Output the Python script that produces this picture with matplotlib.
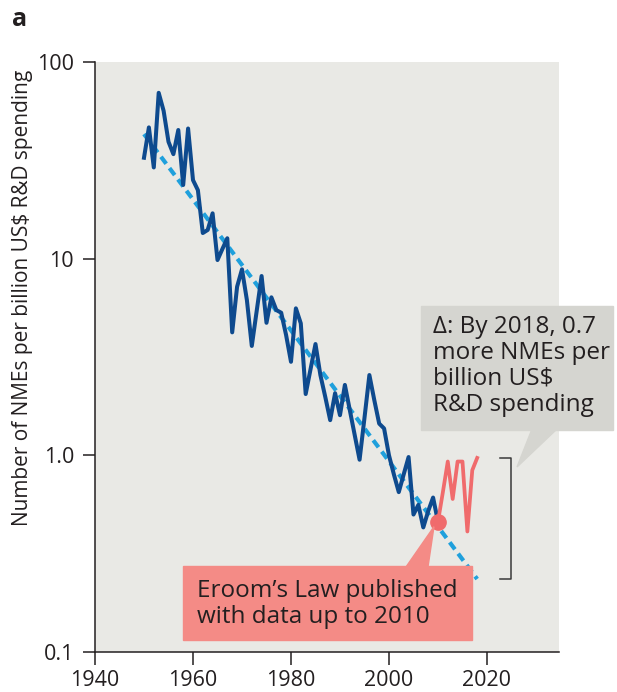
import numpy as np
import matplotlib.pyplot as plt
from matplotlib.patches import Polygon, Rectangle

plt.rcParams['font.family'] = ['Open Sans', 'DejaVu Sans']

# NMEs per billion US$ R&D spending (inflation adjusted)
years_old = list(range(1950, 2011))
nme_old = [32.6, 46.5, 29.1, 69.7, 56.5, 39.3, 34.0, 45.1, 23.7, 45.9,
           25.1, 22.3, 13.5, 14.0, 17.0, 9.84, 11.2, 12.7, 4.22, 7.20,
           8.83, 6.16, 3.60, 5.42, 8.16, 4.72, 6.36, 5.48, 5.31, 4.09,
           2.99, 5.59, 4.69, 2.05, 2.75, 3.68, 2.56, 1.98, 1.51, 2.07,
           1.60, 2.28, 1.70, 1.27, 0.95, 1.55, 2.56, 1.91, 1.45, 1.37,
           1.00, 0.80, 0.65, 0.80, 0.98, 0.50, 0.56, 0.43, 0.52, 0.61,
           0.46]
years_new = list(range(2010, 2019))
nme_new = [0.46, 0.65, 0.93, 0.60, 0.93, 0.93, 0.41, 0.84, 0.97]

# Eroom's law fit
trend_years = [1950, 2018]
trend_vals = [43, 0.235]

W, H = 617, 692
def fx(x):
    return x / W
def fy(y):
    return 1 - y / H

ink = '#231f20'
navy = '#0e4a8e'
sky = '#1fa0dc'
salmon = '#f06b6c'

fig = plt.figure(figsize=(W / 100, H / 100), dpi=100)
ax = fig.add_axes([fx(95), fy(652), (559 - 95) / W, (652 - 62) / H])
ax.set_facecolor('#e9e9e5')
ax.set_yscale('log')
ax.set_xlim(1940, 2034.7)
ax.set_ylim(0.1, 100)

ax.plot(trend_years, trend_vals, color=sky, lw=3.0, dashes=(2.1, 1.3),
        solid_capstyle='butt', zorder=2)
ax.plot(years_old, nme_old, color=navy, lw=2.9, zorder=3)
ax.plot(years_new, nme_new, color=salmon, lw=2.7, zorder=3)
ax.plot([years_old[-1]], [nme_old[-1]], 'o', color=salmon, ms=11, zorder=4)

# bracket showing the gap in 2018
bx = 2025
ax.plot([bx - 2.4, bx, bx, bx - 2.4], [nme_new[-1], nme_new[-1], trend_vals[-1], trend_vals[-1]],
        color='#3a3a3a', lw=1.1, clip_on=False, zorder=3)

ax.set_xticks([1940, 1960, 1980, 2000, 2020])
ax.set_yticks([0.1, 1, 10, 100])
ax.set_yticklabels(['0.1', '1.0', '10', '100'])
ax.minorticks_off()
ax.tick_params(axis='both', labelsize=15.5, colors=ink, length=9, width=1.1, direction='out')
ax.tick_params(axis='y', pad=6)
ax.tick_params(axis='x', pad=4)
for s in ['top', 'right']:
    ax.spines[s].set_visible(False)
for s in ['left', 'bottom']:
    ax.spines[s].set_color(ink)
    ax.spines[s].set_linewidth(1.1)

fig.text(fx(23), fy(298), 'Number of NMEs per billion US$ R&D spending',
         rotation=90, ha='center', va='center', fontsize=15, color=ink)
fig.text(fx(12), fy(20), 'a', fontsize=18, fontweight='bold', color=ink,
         ha='left', va='center')

# grey callout
fig.patches.append(Rectangle((fx(421), fy(430)), (613 - 421) / W, (430 - 306) / H,
                             transform=fig.transFigure, color='#d5d5d0', zorder=5))
fig.patches.append(Polygon([(fx(532), fy(429)), (fx(557), fy(429)), (fx(517), fy(467))],
                           closed=True, transform=fig.transFigure, color='#d5d5d0', zorder=5))
fig.text(fx(433), fy(366), '\u0394: By 2018, 0.7\nmore NMEs per\nbillion US$\nR&D spending',
         fontsize=17.5, color=ink, ha='left', va='center', linespacing=1.1, zorder=6)

# pink label pointing to the 2010 point
fig.canvas.draw()
tx, ty = ax.transData.transform((years_old[-1], nme_old[-1]))
tip = fig.transFigure.inverted().transform((tx - 4, ty - 5))
fig.patches.append(Rectangle((fx(183), fy(640)), (472 - 183) / W, (640 - 566) / H,
                             transform=fig.transFigure, color='#f48b86', zorder=5))
fig.patches.append(Polygon([(tip[0] - 28 / W, fy(567)), (tip[0] - 6 / W, fy(567)), tuple(tip)],
                           closed=True, transform=fig.transFigure, color='#f48b86', zorder=5))
fig.text(fx(197), fy(604), 'Eroom\u2019s Law published\nwith data up to 2010',
         fontsize=17.5, color=ink, ha='left', va='center', linespacing=1.1, zorder=6)

fig.savefig('out.png', dpi=100, facecolor='white')
